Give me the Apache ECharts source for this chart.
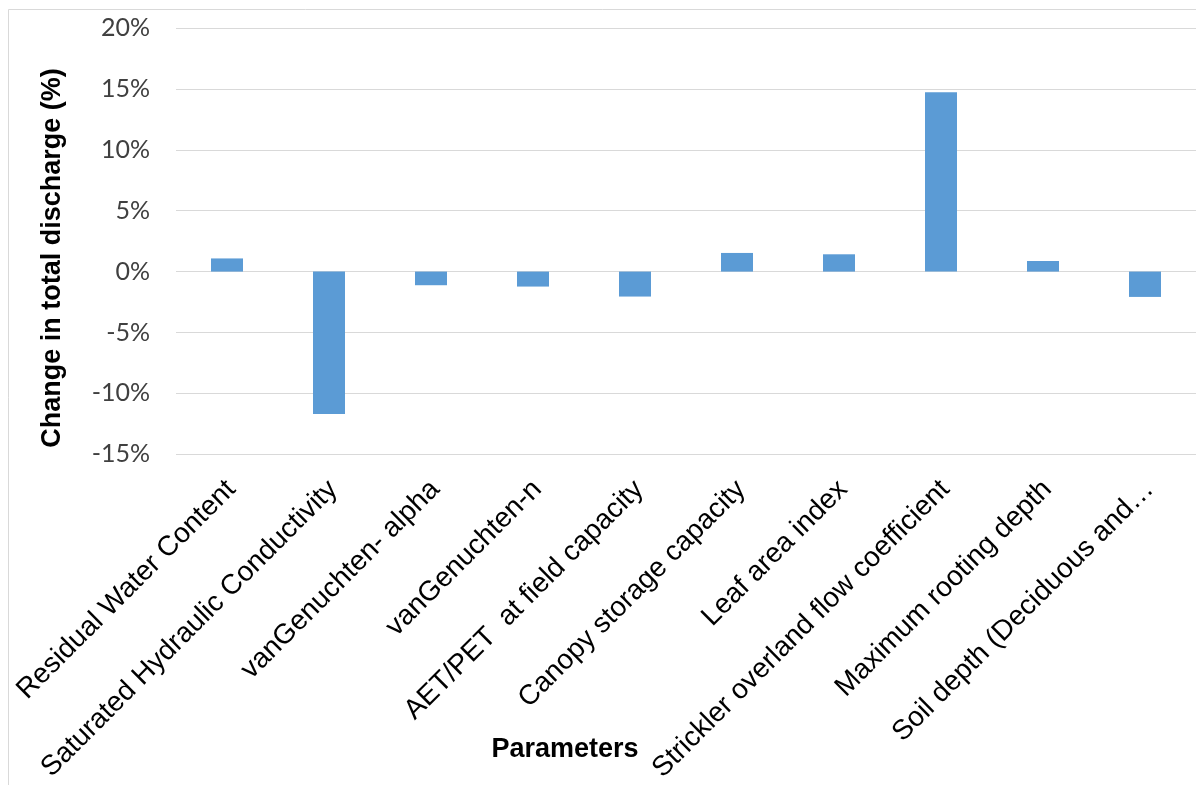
<!DOCTYPE html>
<html>
<head>
<meta charset="utf-8">
<script src="https://cdn.jsdelivr.net/npm/echarts@6/dist/echarts.min.js"></script>
<style>
  html, body { margin: 0; padding: 0; background: #ffffff; }
  #chart { width: 1196px; height: 785px; }
</style>
</head>
<body>
<div id="chart"></div>
<script>
// Parameters tested in the sensitivity run
const parameters = [
  'Residual Water Content',
  'Saturated Hydraulic Conductivity',
  'vanGenuchten- alpha',
  'vanGenuchten-n',
  'AET/PET  at field capacity',
  'Canopy storage capacity',
  'Leaf area index',
  'Strickler overland flow coefficient',
  'Maximum rooting depth',
  'Soil depth (Deciduous and\u2026'
];

// Change in total discharge (%) per parameter
const dischargeChange = [1.08, -11.70, -1.12, -1.23, -2.05, 1.53, 1.42, 14.72, 0.87, -2.08];

// Value axis ticks (%)
const yMin = -15;
const yMax = 20;
const yStep = 5;

const chart = echarts.init(document.getElementById('chart'), null, { renderer: 'canvas' });

chart.setOption({
  backgroundColor: '#ffffff',
  animation: false,
  grid: { left: 176, top: 28, width: 1020, height: 427 },
  xAxis: {
    type: 'category',
    data: parameters,
    axisLine: { show: false, onZero: false },
    axisTick: { show: false },
    axisLabel: {
      interval: 0,
      rotate: 45,
      margin: 35,
      padding: [0, -6, 0, 0],
      color: '#000000',
      fontFamily: 'Liberation Sans, Arial, sans-serif',
      fontSize: 28
    }
  },
  yAxis: {
    type: 'value',
    min: yMin,
    max: yMax,
    interval: yStep,
    axisLine: { show: false },
    axisTick: { show: false },
    splitLine: { lineStyle: { color: '#d9d9d9', width: 1 } },
    axisLabel: {
      margin: 26,
      color: '#404040',
      fontFamily: 'Lato, "Open Sans", sans-serif',
      fontSize: 25,
      formatter: v => v + '%'
    }
  },
  series: [{
    type: 'bar',
    data: dischargeChange,
    barWidth: 32,
    itemStyle: { color: '#5b9bd5' }
  }],
  graphic: [
    {
      type: 'rect',
      silent: true,
      shape: { x: 8.5, y: 9.5, width: 1200, height: 800 },
      style: { fill: null, stroke: '#d9d9d9', lineWidth: 1 }
    },
    {
      type: 'text',
      silent: true,
      x: 53,
      y: 258,
      rotation: Math.PI / 2,
      style: {
        text: 'Change in total discharge (%)',
        fill: '#000000',
        font: 'bold 27px "Liberation Sans", Arial, sans-serif',
        textAlign: 'center',
        textVerticalAlign: 'middle'
      }
    },
    {
      type: 'text',
      silent: true,
      x: 565,
      y: 750,
      style: {
        text: 'Parameters',
        fill: '#000000',
        font: 'bold 27px "Liberation Sans", Arial, sans-serif',
        textAlign: 'center',
        textVerticalAlign: 'middle'
      }
    }
  ]
});
</script>
</body>
</html>
